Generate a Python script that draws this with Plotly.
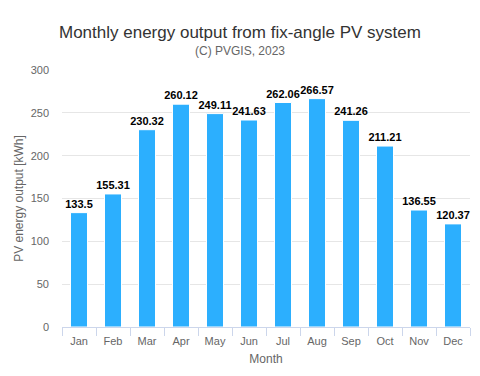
import plotly.graph_objects as go

months = ["Jan", "Feb", "Mar", "Apr", "May", "Jun", "Jul", "Aug", "Sep", "Oct", "Nov", "Dec"]
energy = [133.5, 155.31, 230.32, 260.12, 249.11, 241.63, 262.06, 266.57, 241.26, 211.21, 136.55, 120.37]
labels = ["133.5", "155.31", "230.32", "260.12", "249.11", "241.63", "262.06", "266.57", "241.26", "211.21", "136.55", "120.37"]

FONT = "Liberation Sans, Arial, Helvetica, sans-serif"

W, H = 480, 376
L, R, T, B = 62, 10, 70, 49
PW, PH = W - L - R, H - T - B

def px_x(x):
    return (x - L) / PW

def px_y(y):
    return (H - B - y) / PH

fig = go.Figure(go.Bar(
    x=months, y=energy, text=labels, textposition="outside",
    textfont=dict(family=FONT, size=11, color="#000000", weight="bold"),
    constraintext="none",
    marker=dict(color="#2caffe", line=dict(color="#ffffff", width=1)),
    cliponaxis=False, hoverinfo="x+y",
))

fig.update_layout(
    width=W, height=H,
    margin=dict(l=L, r=R, t=T, b=B),
    paper_bgcolor="white", plot_bgcolor="white",
    bargap=0.5, showlegend=False,
    font=dict(family=FONT, color="#666666"),
    annotations=[
        dict(text="Monthly energy output from fix-angle PV system", x=px_x(240), xref="paper",
             y=px_y(32), yref="paper", showarrow=False, font=dict(size=17, color="#333333", family=FONT),
             xanchor="center", yanchor="middle"),
        dict(text="(C) PVGIS, 2023", x=px_x(240), xref="paper",
             y=px_y(51), yref="paper", showarrow=False, font=dict(size=12, color="#666666", family=FONT),
             xanchor="center", yanchor="middle"),
    ],
    xaxis=dict(
        type="category", showgrid=False, showline=True, linecolor="#ccd6eb", linewidth=1,
        ticks="outside", tickson="boundaries", ticklen=8, tickcolor="#ccd6eb",
        tickfont=dict(size=11, color="#666666"), ticklabelstandoff=4,
        title=dict(text="Month", font=dict(size=12, color="#666666"), standoff=8),
    ),
    yaxis=dict(
        range=[0, 300], dtick=50, showgrid=True, gridcolor="#e6e6e6", zeroline=False,
        showline=False, tickfont=dict(size=11, color="#666666"), ticklabelstandoff=12,
        title=dict(text="PV energy output [kWh]", font=dict(size=12, color="#666666"), standoff=4),
    ),
)

fig.write_html("out.html", config={"displayModeBar": False},
               post_script="document.body.style.margin='0';document.body.style.overflow='hidden';")
